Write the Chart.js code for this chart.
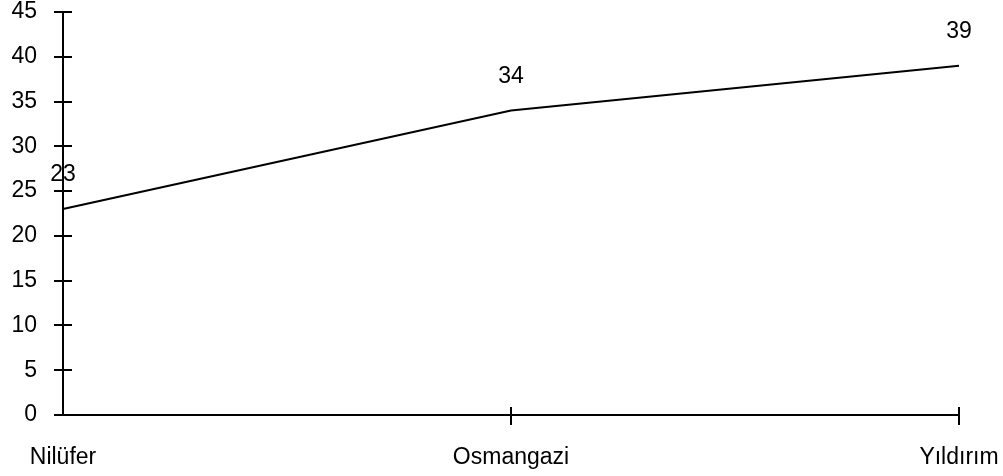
<!DOCTYPE html>
<html>
<head>
<meta charset="utf-8">
<script src="https://cdn.jsdelivr.net/npm/chart.js@4"></script>
<style>
html,body{margin:0;padding:0;background:#fff;}
#wrap{width:1003px;height:476px;position:relative;}
</style>
</head>
<body>
<div id="wrap"><canvas id="c" width="1003" height="476"></canvas></div>
<script>
const categories = ["Nilüfer", "Osmangazi", "Yıldırım"];
const values = [23, 34, 39];
const yMin = 0, yMax = 45, yStep = 5;

const FONT = "'Liberation Sans', Arial, sans-serif";

const crossTicks = {
  id: 'crossTicks',
  afterDraw(chart) {
    const ctx = chart.ctx;
    const x = chart.scales.x, y = chart.scales.y;
    ctx.save();
    ctx.strokeStyle = '#000';
    ctx.lineWidth = 2;
    ctx.beginPath();
    ctx.moveTo(x.left, y.top);
    ctx.lineTo(x.left, y.bottom);
    ctx.moveTo(x.left, y.bottom);
    ctx.lineTo(x.right, y.bottom);
    ctx.stroke();
    ctx.beginPath();
    y.ticks.forEach((t, i) => {
      const py = Math.round(y.getPixelForTick(i));
      ctx.moveTo(x.left - 9, py);
      ctx.lineTo(x.left + 9, py);
    });
    x.ticks.forEach((t, i) => {
      if (i === 0) return;
      const px = Math.round(x.getPixelForTick(i));
      ctx.moveTo(px, y.bottom - 8);
      ctx.lineTo(px, y.bottom + 10);
    });
    ctx.stroke();
    ctx.fillStyle = '#000';
    ctx.font = '23px ' + FONT;
    ctx.textAlign = 'center';
    ctx.textBaseline = 'middle';
    const meta = chart.getDatasetMeta(0);
    meta.data.forEach((pt, i) => {
      ctx.fillText(String(values[i]), pt.x, pt.y - 34);
    });
    ctx.restore();
  }
};

new Chart(document.getElementById('c'), {
  type: 'line',
  data: {
    labels: categories,
    datasets: [{
      data: values,
      borderColor: '#000',
      borderWidth: 2,
      pointRadius: 0,
      tension: 0,
      fill: false
    }]
  },
  options: {
    responsive: false,
    animation: false,
    layout: { padding: { top: 12, right: 44, left: 0, bottom: 0 } },
    plugins: { legend: { display: false }, tooltip: { enabled: false } },
    scales: {
      x: {
        type: 'category',
        offset: false,
        grid: { display: false, drawTicks: false },
        border: { display: false },
        ticks: { color: '#000', font: { family: FONT, size: 23 }, padding: 29, maxRotation: 0, autoSkip: false },
        afterFit(s) { s.height = 61; s.paddingLeft = 0; s.paddingRight = 0; }
      },
      y: {
        min: yMin, max: yMax,
        grid: { display: false, drawTicks: false },
        border: { display: false },
        ticks: { stepSize: yStep, color: '#000', font: { family: FONT, size: 23 }, padding: 26 },
        afterFit(s) { s.width = 63; s.paddingTop = 0; s.paddingBottom = 0; }
      }
    }
  },
  plugins: [crossTicks]
});
</script>
</body>
</html>
